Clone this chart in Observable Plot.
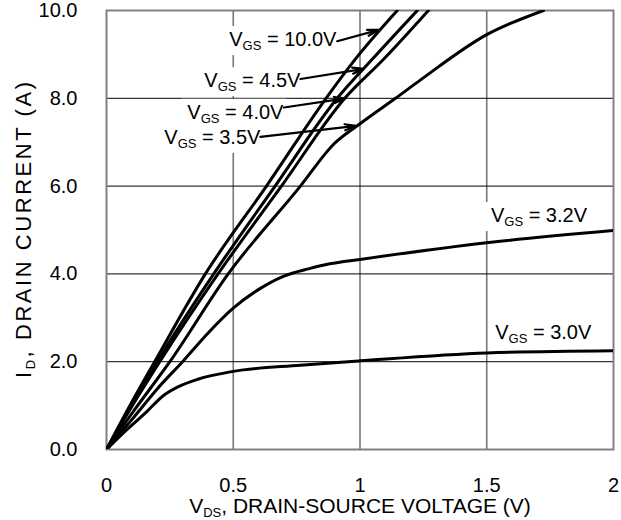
<!DOCTYPE html>
<html>
<head>
<meta charset="utf-8">
<script src="https://cdn.jsdelivr.net/npm/d3@7"></script>
<script src="https://cdn.jsdelivr.net/npm/@observablehq/plot@0.6"></script>
<style>
  html, body { margin: 0; padding: 0; background: white; }
</style>
</head>
<body>
<div id="chart"></div>
<script>
// ---- data ----
const xTicks = [0, 0.5, 1, 1.5, 2];
const xTickLabels = ["0", "0.5", "1", "1.5", "2"];
const yTicks = [0, 2, 4, 6, 8, 10];
const yTickLabels = ["0.0", "2.0", "4.0", "6.0", "8.0", "10.0"];

// [VDS (V), ID (A)]
const vgs100 = [[0,0],[0.1,1.08],[0.19,2.0],[0.39,4.0],[0.631,6.0],[0.866,8.0],[0.98,8.88],[1.147,10.0]];
const vgs45  = [[0,0],[0.1,1.02],[0.2,2.0],[0.423,4.0],[0.665,6.0],[0.91,8.0],[1.05,8.9],[1.226,10.0]];
const vgs40  = [[0,0],[0.1,0.98],[0.21,2.0],[0.44,4.0],[0.69,6.0],[0.94,8.0],[1.095,8.9],[1.27,10.0]];
const vgs35  = [[0,0],[0.1,0.82],[0.25,2.0],[0.48,4.0],[0.765,6.0],[0.897,6.96],[1.0,7.42],[1.14,8.0],[1.239,8.42],[1.5,9.45],[1.724,10.0]];
const vgs32  = [[0,0],[0.1,0.68],[0.2,1.38],[0.3,2.0],[0.4,2.65],[0.5,3.22],[0.607,3.67],[0.7,3.95],[0.8,4.12],[0.88,4.23],[1.0,4.33],[1.5,4.71],[2.0,4.99]];
const vgs30  = [[0,0],[0.08,0.45],[0.16,0.87],[0.225,1.23],[0.28,1.42],[0.36,1.6],[0.5,1.78],[0.765,1.92],[1.0,2.02],[1.5,2.2],[2.0,2.25]];

const seriesNames = ["10.0V", "4.5V", "4.0V", "3.5V", "3.2V", "3.0V"];
const seriesData = [vgs100, vgs45, vgs40, vgs35, vgs32, vgs30];

// curve labels ({..} = subscript)
const arrowLabels = ["V{GS} = 10.0V", "V{GS} = 4.5V", "V{GS} = 4.0V", "V{GS} = 3.5V"];
const arrowLabelX = [0.907, 0.765, 0.698, 0.607];
const arrowLabelY = [9.335, 8.4, 7.68, 7.11];
const arrowX1 = [0.91, 0.765, 0.70, 0.607];
const arrowY1 = [9.30, 8.44, 7.79, 7.12];
const arrowX2 = [1.074, 1.015, 0.943, 0.985];
const arrowY2 = [9.56, 8.67, 8.0, 7.37];

const sideLabels = ["V{GS} = 3.2V", "V{GS} = 3.0V"];
const sideLabelX = [1.706, 1.723];
const sideLabelY = [5.33, 2.67];

const xTitle = "V{DS}, DRAIN-SOURCE VOLTAGE (V)";
const yTitle = "I{D}, DRAIN CURRENT (A)";

// ---- tables built from the arrays ----
const rows = seriesNames.flatMap((name, k) => seriesData[k].map(([x, y]) => ({vgs: name, x, y})));
const arrowRows = arrowLabels.map((t, i) => ({t, lx: arrowLabelX[i], ly: arrowLabelY[i],
  x1: arrowX1[i], y1: arrowY1[i], x2: arrowX2[i], y2: arrowY2[i]}));
const sideRows = sideLabels.map((t, i) => ({t, x: sideLabelX[i], y: sideLabelY[i]}));

const FS = 20;

const svg = Plot.plot({
  width: 621,
  height: 520,
  marginLeft: 106,
  marginRight: 8,
  marginTop: 10,
  marginBottom: 71,
  style: {fontFamily: "'Liberation Sans', Arial, Helvetica, sans-serif", fontSize: FS + "px", background: "white", color: "black"},
  x: {domain: [0, 2]},
  y: {domain: [0, 10]},
  marks: [
    Plot.gridX([0.5, 1, 1.5], {stroke: "#777", strokeOpacity: 1, strokeWidth: 1.6}),
    Plot.gridY([2, 4, 6, 8], {stroke: "black", strokeOpacity: 1, strokeWidth: 1}),
    Plot.frame({stroke: "#808080", strokeWidth: 2}),
    Plot.axisX(xTicks, {anchor: "bottom", tickSize: 0, tickPadding: 28, label: null,
      tickFormat: d => xTickLabels[xTicks.indexOf(d)]}),
    Plot.axisY(yTicks, {anchor: "left", tickSize: 0, tickPadding: 29, label: null,
      tickFormat: d => yTickLabels[yTicks.indexOf(d)]}),
    Plot.line(rows, {x: "x", y: "y", z: "vgs", stroke: "black", strokeWidth: 3, curve: "monotone-x", clip: true}),
    Plot.text(arrowRows, {x: "lx", y: "ly", text: "t", textAnchor: "end", fontSize: FS, fill: "black"}),
    Plot.text(sideRows, {x: "x", y: "y", text: "t", textAnchor: "middle", fontSize: FS, fill: "black"}),
    Plot.arrow(arrowRows, {x1: "x1", y1: "y1", x2: "x2", y2: "y2", stroke: "black", strokeWidth: 2.2, headLength: 8, headAngle: 30}),
    Plot.text([xTitle], {frameAnchor: "bottom", dy: 63, text: d => d, fontSize: 21, textAnchor: "middle", fill: "black"}),
    Plot.text([yTitle], {frameAnchor: "left", dx: -83, rotate: -90, text: d => d, fontSize: 22, textAnchor: "middle", fill: "black"})
  ]
});

document.getElementById("chart").appendChild(svg);

// subscripts and white label boxes
const NS = "http://www.w3.org/2000/svg";
const boxes = [];
svg.querySelectorAll("text").forEach(t => {
  const s = t.textContent;
  const m = s.match(/^(.*?)\{(.+?)\}(.*)$/);
  if (!m) return;
  t.textContent = "";
  const a = document.createElementNS(NS, "tspan"); a.textContent = m[1];
  const b = document.createElementNS(NS, "tspan"); b.textContent = m[2];
  b.setAttribute("font-size", "13px"); b.setAttribute("dy", "4");
  const c = document.createElementNS(NS, "tspan"); c.textContent = m[3];
  c.setAttribute("dy", "-4");
  t.append(a, b, c);
  if (m[2] === "D") {
    t.setAttribute("textLength", "296");
    t.setAttribute("lengthAdjust", "spacing");
  }
  if (m[2] === "GS") boxes.push(t);
});
boxes.forEach(t => {
  const bb = t.getBBox();
  const r = document.createElementNS(NS, "rect");
  r.setAttribute("x", bb.x - 6);
  r.setAttribute("y", bb.y - 2);
  r.setAttribute("width", bb.width + 8);
  r.setAttribute("height", bb.height + 4);
  r.setAttribute("fill", "white");
  const tr = t.getAttribute("transform");
  if (tr) r.setAttribute("transform", tr);
  const g = t.parentNode;
  g.insertBefore(r, g.firstChild);
});
</script>
</body>
</html>
